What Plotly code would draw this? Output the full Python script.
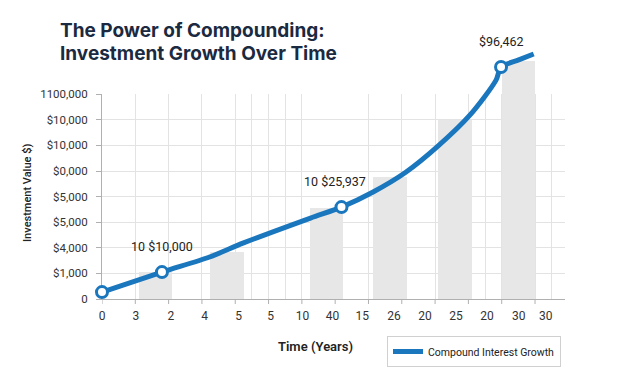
import plotly.graph_objects as go

# ---- data (axis units = gridline steps) ----
curve_x = [0.0, 1.80, 3.23, 4.25, 6.26, 7.19, 8.14, 9.13, 10.06, 11.05, 11.83, 11.98, 12.51, 12.96]
curve_y = [0.27, 1.05, 1.64, 2.19, 3.16, 3.59, 4.18, 4.96, 5.94, 7.19, 8.55, 9.06, 9.34, 9.57]

milestone_x = [0.0, 1.80, 7.19, 11.98]
milestone_y = [0.27, 1.05, 3.59, 9.06]

label_x = [1.80, 7.19, 11.98]
label_y = [1.05, 3.59, 9.06]
label_text = ["10 $10,000", "10 $25,937", "$96,462"]

bar_x = [1.6, 3.75, 6.75, 8.65, 10.6, 12.5]
bar_y = [1.05, 1.84, 3.55, 4.75, 6.99, 9.3]

x_tick_vals = [0.0, 1.02, 2.07, 3.08, 4.10, 5.06, 6.02, 6.92, 7.81, 8.77, 9.70, 10.63, 11.56, 12.51, 13.32]
x_tick_text = ["0", "3", "2", "4", "5", "5", "10", "40", "15", "26", "20", "25", "20", "30", "30"]
x_mark_vals = [0, 1, 2, 3, 4, 5, 6, 7, 8, 9, 10, 11, 12, 13]
x_grid_vals = [1, 2, 3, 4, 4.5, 5, 5.5, 6, 8, 9, 10, 11, 11.5, 12, 13, 13.5]

y_tick_vals = [0, 1, 2, 3, 4, 5, 6, 7, 8]
y_tick_text = ["0", "$1,000", "$4,000", "$5,000", "$5,000", "$0,000", "$10,000", "$10,000", "1100,000"]

BLUE = "#1a76bd"
DARK = "#1b2a41"
TFONT = "Inter"
FONT = "Roboto"
GRID = "#e3e3e3"
AXIS = "#b0b0b0"

X_RANGE = [0, 13.9]
Y_TOP = 10  # headroom above the last gridline for the curve

fig = go.Figure()

# empty trace that keeps the grid subplot (x, y) alive
fig.add_trace(go.Scatter(x=[], y=[], xaxis="x", yaxis="y", showlegend=False, hoverinfo="skip"))

fig.add_trace(go.Bar(
    x=bar_x, y=bar_y, width=1.0, xaxis="x2", yaxis="y2",
    marker=dict(color="#e7e7e7", line=dict(width=0)),
    showlegend=False, hoverinfo="skip",
))

fig.add_trace(go.Scatter(
    x=curve_x, y=curve_y, mode="lines", xaxis="x2", yaxis="y2",
    line=dict(color=BLUE, width=5, shape="spline", smoothing=0.8),
    name="Compound Interest Growth",
))

fig.add_trace(go.Scatter(
    x=milestone_x, y=milestone_y, mode="markers", xaxis="x2", yaxis="y2",
    marker=dict(size=11, color="white", line=dict(color=BLUE, width=3)),
    showlegend=False, cliponaxis=False,
))

H = 256.0  # plot height in px, used to place texts in paper units

annotations = []
for lx, ly, lt in zip(label_x, label_y, label_text):
    annotations.append(dict(
        x=lx, y=ly, xref="x2", yref="y2", text=lt, showarrow=False,
        yshift=26, xshift=(-6 if lt.startswith("10 $25") else 0),
        font=dict(family=FONT, size=12.5, color="#222222", weight=400),
    ))

annotations.append(dict(
    xref="paper", yref="paper", x=(58 - 102) / 463, y=(299 - 30) / H,
    xanchor="left", yanchor="middle", showarrow=False,
    text="The Power of Compounding:",
    font=dict(family=TFONT, size=19, color=DARK, weight=700),
))
annotations.append(dict(
    xref="paper", yref="paper", x=(58 - 102) / 463, y=(299 - 53) / H,
    xanchor="left", yanchor="middle", showarrow=False,
    text="Investment Growth Over Time",
    font=dict(family=TFONT, size=19, color=DARK, weight=700),
))
annotations.append(dict(
    xref="paper", yref="paper", x=(315 - 102) / 463, y=(299 - 346) / H,
    xanchor="center", yanchor="middle", showarrow=False,
    text="Time (Years)",
    font=dict(family=FONT, size=13, color="#222222", weight=600),
))
annotations.append(dict(
    xref="paper", yref="paper", x=(27 - 102) / 463, y=(299 - 193) / H,
    xanchor="center", yanchor="middle", showarrow=False, textangle=-90,
    text="Investment Value $)",
    font=dict(family=FONT, size=11, color="#222222", weight=500),
))

shapes = []
for gx in x_mark_vals:
    shapes.append(dict(type="line", xref="x2", yref="paper", x0=gx, x1=gx, y0=0, y1=-5 / H,
                       line=dict(color=AXIS, width=1), layer="above"))

grid_frac = max(y_tick_vals) / Y_TOP

fig.update_layout(
    width=621, height=368,
    margin=dict(l=102, r=56, t=43, b=69, autoexpand=False),
    paper_bgcolor="white", plot_bgcolor="rgba(0,0,0,0)",
    font=dict(family=FONT, color="#333333"),
    annotations=annotations, shapes=shapes,
    bargap=0,
    legend=dict(
        xref="container", yref="container",
        x=561 / 621, y=1 - 336 / 368, xanchor="right", yanchor="top",
        bordercolor="#d0d0d0", borderwidth=1, bgcolor="white",
        font=dict(family=FONT, size=10.5, color="#222222"),
        itemwidth=30,
    ),
    # grid subplot: gridlines only up to the last y tick
    xaxis=dict(
        domain=[0, 1], range=X_RANGE, anchor="y",
        tickvals=x_grid_vals, showticklabels=False, ticks="",
        showgrid=True, gridcolor=GRID, gridwidth=1,
        showline=True, linecolor=AXIS, linewidth=1,
        zeroline=False, fixedrange=True,
    ),
    yaxis=dict(
        domain=[0, grid_frac], range=[0, max(y_tick_vals)], anchor="x",
        tickvals=y_tick_vals, ticktext=y_tick_text,
        showgrid=True, gridcolor=GRID, gridwidth=1,
        showline=True, linecolor=AXIS, linewidth=1,
        ticks="outside", ticklen=5, tickcolor=AXIS,
        tickfont=dict(family=FONT, size=11.5, color="#333333"),
        ticklabelstandoff=6,
        zeroline=False, fixedrange=True,
    ),
    # data subplot: full height so the curve can rise above the grid
    xaxis2=dict(
        domain=[0, 1], range=X_RANGE, anchor="y2",
        tickvals=x_tick_vals, ticktext=x_tick_text, ticks="",
        ticklabelstandoff=8,
        tickfont=dict(family=FONT, size=12, color="#333333"),
        showgrid=False, showline=False, zeroline=False, fixedrange=True,
    ),
    yaxis2=dict(
        domain=[0, 1], range=[0, Y_TOP], anchor="x2", visible=False,
        showgrid=False, zeroline=False, fixedrange=True,
    ),
)

fig.write_html("out.html", config={"displayModeBar": False},
               post_script="document.body.style.margin='0';")
